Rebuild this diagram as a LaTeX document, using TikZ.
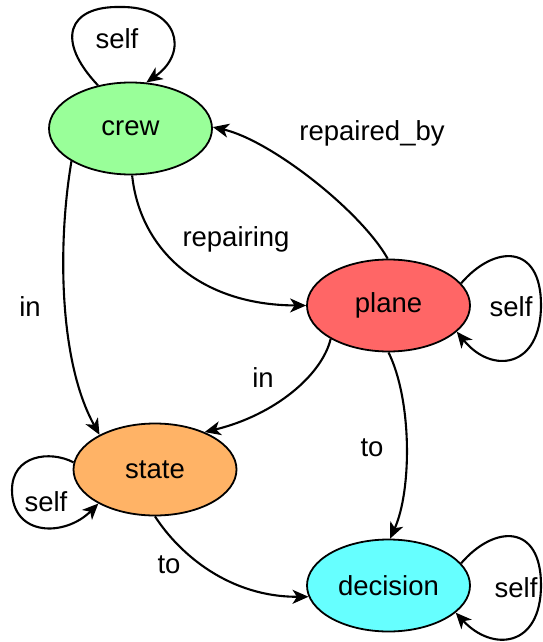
\documentclass[tikz,border=0pt]{standalone}
\usepackage{fontspec}
\setmainfont{Liberation Sans}
\usetikzlibrary{arrows.meta,shapes.geometric}
\definecolor{crewfill}{HTML}{99FF99}
\definecolor{planefill}{HTML}{FF6666}
\definecolor{statefill}{HTML}{FFB366}
\definecolor{decisionfill}{HTML}{66FFFF}
\begin{document}
\begin{tikzpicture}[x=1pt,y=-1pt,
  entity/.style={ellipse,draw,line width=1.8pt,minimum width=163pt,minimum height=92pt,
    inner sep=0pt,font=\fontsize{27.5}{32}\selectfont},
  link/.style={line width=2.1pt,-{Stealth[length=16pt,width=14pt,inset=4.5pt]}},
  lbl/.style={font=\fontsize{27.5}{32}\selectfont,inner sep=0pt}]
\useasboundingbox (0,0) rectangle (543,642);

% entities
\node[entity,fill=crewfill]     (crew)     at (130.5,128.5) {crew};
\node[entity,fill=planefill]    (plane)    at (388.5,305.5) {plane};
\node[entity,fill=statefill]    (state)    at (155,469.5)   {state};
\node[entity,fill=decisionfill] (decision) at (388.5,585.5) {decision};

% self loops
\draw[link] (crew.127) .. controls (55,40) and (68,6) .. (120,7)
  .. controls (178,6) and (190,52) .. (crew.71);
\draw[link] (plane.17) .. controls (495,244) and (541,244) .. (541,305)
  .. controls (541,368) and (492,375) .. (plane.-21);
\draw[link] (decision.17) .. controls (495,524) and (541,524) .. (541,585)
  .. controls (541,648) and (492,652) .. (decision.-22);
\draw[link] (state.175) .. controls (50,450) and (12,455) .. (12,490)
  .. controls (12,537) and (65,537) .. (state.211);

% relations
\draw[link] (plane.91) .. controls (360,210) and (270,140) .. (crew.1);
\draw[link] (crew.-88) .. controls (140,250) and (200,305) .. (plane.180);
\draw[link] (crew.209) .. controls (58,240) and (58,360) .. (state.148);
\draw[link] (plane.210) .. controls (322,375) and (275,415) .. (state.37);
\draw[link] (plane.270) .. controls (412,400) and (412,490) .. (decision.88);
\draw[link] (state.-90) .. controls (180,555) and (230,597) .. (decision.188);

% labels
\node[lbl] (l-crew-self)  at (117,39)  {self};
\node[lbl] (l-plane-self) at (511,307) {self};
\node[lbl] (l-dec-self)   at (516,588) {self};
\node[lbl] (l-state-self) at (46,502)  {self};
\node[lbl] (l-repby)      at (372,133) {repaired\_by};
\node[lbl] (l-repairing)  at (236,239) {repairing};
\node[lbl] (l-in-crew)    at (30,307)  {in};
\node[lbl] (l-in-plane)   at (263,378) {in};
\node[lbl] (l-to-plane)   at (372,448) {to};
\node[lbl] (l-to-state)   at (169,565) {to};
\end{tikzpicture}
\end{document}
